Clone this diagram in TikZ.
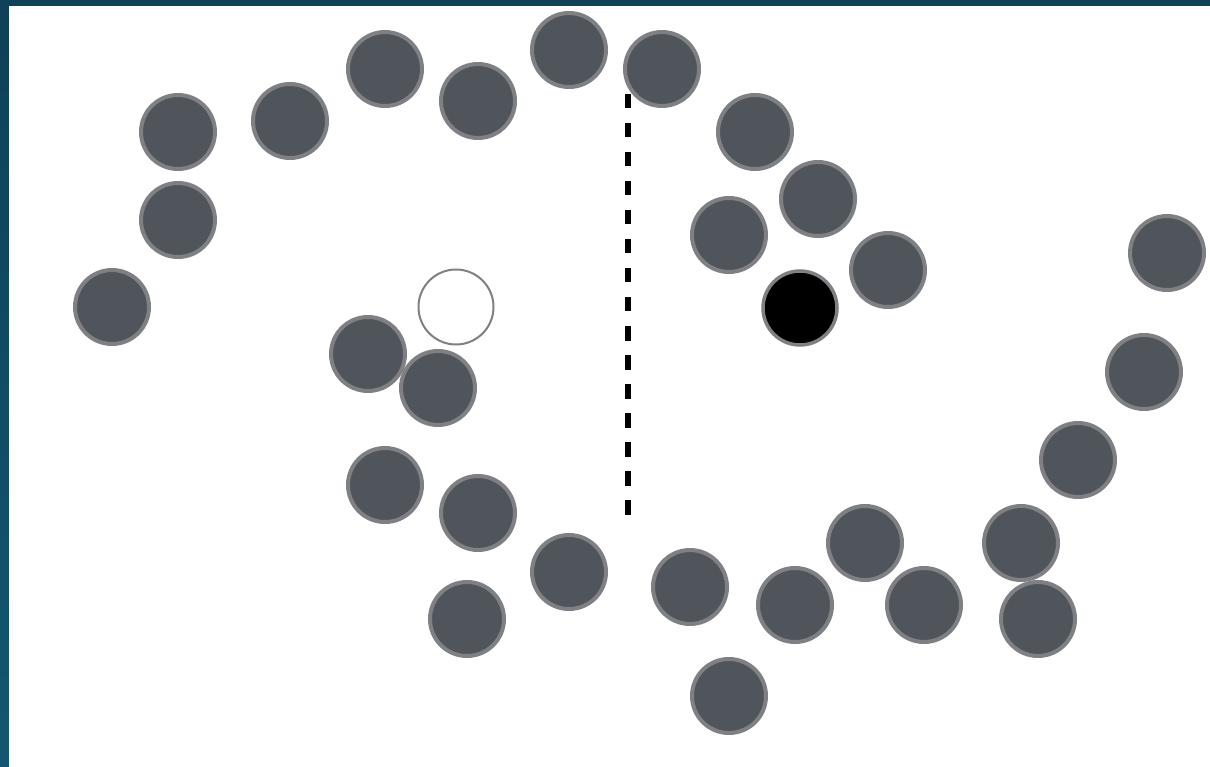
\documentclass[tikz,border=0pt]{standalone}
\usetikzlibrary{positioning}
\definecolor{keret}{HTML}{0F4158}
\definecolor{keretlent}{HTML}{145671}
\definecolor{pontszin}{HTML}{50555C}
\definecolor{szegely}{HTML}{7E8084}
\tikzset{
  adat/.style={circle,draw=szegely,line width=4pt,fill=pontszin,inner sep=0pt,minimum size=74pt},
  celpont/.style={adat,fill=black,line width=3.5pt},
  uj/.style={circle,draw=szegely,line width=2pt,fill=white,inner sep=0pt,minimum size=75pt},
  hatar/.style={line width=6pt,dash pattern=on 14.5pt off 14.5pt},
}
\begin{document}
\begin{tikzpicture}[x=1pt,y=-1pt]
  % frame
  \shade[top color=keret,bottom color=keretlent] (0,0) rectangle (1210,767);
  \fill[white] (9,6) rectangle (1210,767);
  \useasboundingbox (0,0) rectangle (1210,767);
  % dividing line
  \coordinate (hfent) at (628,94);
  \coordinate (hlent) at (628,522);
  \draw[hatar] (hfent) -- (hlent);
  % data points
  \foreach \nev/\x/\y in {a1/178/132, a2/290/121, a3/385/69, a4/478/101, a5/569/50,
      a6/662/69, a7/755/132, a8/818/199, a9/729/235, a10/888/270, a11/178/220,
      a12/112/307, a13/368/354, a14/438/388, a15/385/485, a16/478/513,
      a17/569/572, a18/467/619, a19/690/587, a20/795/605, a21/865/543,
      a22/924/605, a23/1021/543, a24/1038/619, a25/1078/460, a26/1144/372,
      a27/1167/253, a28/729/696}
    \node[adat] (\nev) at (\x,\y) {};
  \node[celpont] (cel) at (800,308) {};
  \node[uj] (kerdes) at (456,307) {};
\end{tikzpicture}
\end{document}
